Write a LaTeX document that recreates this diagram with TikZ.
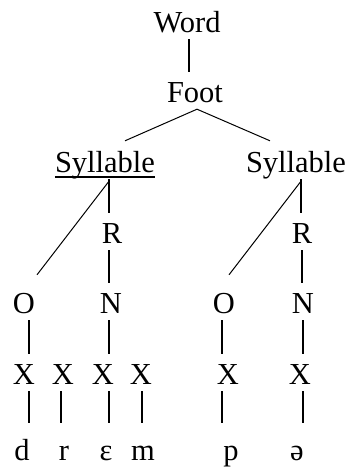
\documentclass[tikz,border=0pt]{standalone}
\usepackage{fontspec}
\setmainfont{Liberation Serif}
\tikzset{
  lbl/.style={inner sep=0pt, text height=20pt, text depth=0pt, anchor=base,
    font=\fontsize{30.5}{36}\selectfont},
  tie/.style={line width=1.3pt, shorten <=7pt, shorten >=10pt},
  segtie/.style={tie, shorten >=17pt},
  slant/.style={line width=1pt},
}
\begin{document}
\begin{tikzpicture}[x=1pt, y=-1pt]
    \useasboundingbox (0,0) rectangle (354,471);
    % upper levels
    \node[lbl] (word) at (187, 32) {Word};
    \node[lbl] (foot) at (195, 102) {Foot};
    \node[lbl] (sylA) at (105, 172) {Syllable};
    \node[lbl] (sylB) at (296, 172) {Syllable};
    \node[lbl] (rA) at (112, 243) {R};
    \node[lbl] (rB) at (302, 243) {R};
    \node[lbl] (oA) at (24, 313) {O};
    \node[lbl] (nA) at (111, 313) {N};
    \node[lbl] (oB) at (224, 313) {O};
    \node[lbl] (nB) at (303, 313) {N};
    % skeleton
    \node[lbl] (x1) at (24, 384) {X};
    \node[lbl] (x2) at (63, 384) {X};
    \node[lbl] (x3) at (103, 384) {X};
    \node[lbl] (x4) at (141, 384) {X};
    \node[lbl] (x5) at (228, 384) {X};
    \node[lbl] (x6) at (300, 384) {X};
    % segments
    \node[lbl] (sd) at (22, 460) {d};
    \node[lbl] (sr) at (64, 460) {r};
    \node[lbl] (se) at (106, 460) {ɛ};
    \node[lbl] (sm) at (143, 460) {m};
    \node[lbl] (sp) at (231, 460) {p};
    \node[lbl] (sa) at (297, 460) {ə};

    \draw[line width=1.8pt] ([yshift=-5pt]sylA.base west) -- ([yshift=-5pt]sylA.base east);

    \draw[tie] ([xshift=2pt]word.south) -- ([xshift=-6pt]foot.north);
    \draw[slant] ([xshift=2pt,yshift=-7pt]foot.south) -- ([xshift=20pt,yshift=11pt]sylA.north);
    \draw[slant] ([xshift=2pt,yshift=-7pt]foot.south) -- ([xshift=-26pt,yshift=11pt]sylB.north);

    \draw[slant] ([xshift=4pt,yshift=-9pt]sylA.south) -- ([xshift=13pt,yshift=18pt]oA.north);
    \draw[tie] ([xshift=4pt]sylA.south) -- ([xshift=-3pt]rA.north);
    \draw[tie] ([xshift=-3pt]rA.south) -- ([xshift=-2pt]nA.north);
    \draw[slant] ([xshift=5pt,yshift=-9pt]sylB.south) -- ([xshift=5pt,yshift=18pt]oB.north);
    \draw[tie] ([xshift=5pt]sylB.south) -- ([xshift=-1pt]rB.north);
    \draw[tie] (rB.south) -- ([xshift=-1pt]nB.north);

    \draw[tie] ([xshift=5pt]oA.south) -- ([xshift=5pt]x1.north);
    \draw[tie] ([xshift=-2pt]nA.south) -- ([xshift=6pt]x3.north);
    \draw[tie] ([xshift=-2pt]oB.south) -- ([xshift=-6pt]x5.north);
    \draw[tie] (nB.south) -- ([xshift=3pt]x6.north);

    \draw[segtie] ([xshift=5pt]x1.south) -- ([xshift=7pt]sd.north);
    \draw[segtie] ([xshift=-2pt]x2.south) -- ([xshift=-3pt]sr.north);
    \draw[segtie] ([xshift=6pt]x3.south) -- ([xshift=3pt]se.north);
    \draw[segtie] ([xshift=1pt]x4.south) -- ([xshift=-1pt]sm.north);
    \draw[segtie] ([xshift=-6pt]x5.south) -- ([xshift=-9pt]sp.north);
    \draw[segtie] ([xshift=3pt]x6.south) -- ([xshift=6pt]sa.north);
\end{tikzpicture}
\end{document}
